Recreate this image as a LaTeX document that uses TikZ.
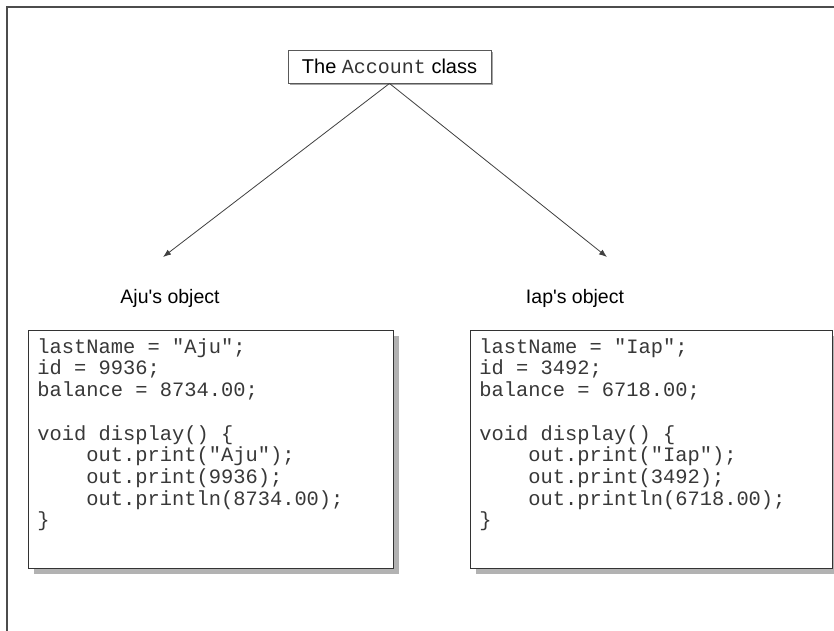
\documentclass[tikz,border=0pt]{standalone}
\usepackage{fontspec}
\setmainfont{Liberation Sans}[Ligatures=TeXOff]
\setmonofont{Liberation Mono}
\usetikzlibrary{arrows.meta,shadows}
\newcommand{\codefont}{\fontsize{20.4}{21.7}\selectfont\ttfamily\color{black!78}}
\newcommand{\ind}{\hphantom{void}}
\begin{document}
\begin{tikzpicture}[x=1pt,y=-1pt,
  frameline/.style={draw=black!70,line width=1.2pt},
  titlebox/.style={draw=black!65,line width=0.9pt,fill=white,minimum width=203pt,minimum height=33pt,inner sep=0pt,
     font=\fontsize{20}{24}\selectfont,
     drop shadow={shadow xshift=1.5pt,shadow yshift=-1.5pt,fill=black!35,opacity=1}},
  codebox/.style={draw=black!80,line width=0.9pt,fill=white,inner xsep=9pt,inner ysep=8pt,anchor=north west,
     drop shadow={shadow xshift=6pt,shadow yshift=-6pt,fill=black!30,opacity=1}},
  objlabel/.style={font=\fontsize{19.5}{24}\selectfont,anchor=base,inner sep=0pt},
  link/.style={draw=black!75,line width=0.8pt,-{Latex[length=8pt,width=6pt]}}
]
\useasboundingbox (0,0) rectangle (834,630);
\fill[white] (0,0) rectangle (834,630);
\draw[frameline] (7,640) -- (7,7) -- (850,7);

\node[titlebox] (title) at (389.5,66.5) {The \texttt{\color{black!80}Account} class};

\coordinate (ajutip) at (163,257);
\coordinate (iaptip) at (607,257);
\draw[link] (title.south) -- (ajutip);
\draw[link] (title.south) -- (iaptip);

\node[objlabel] (ajulabel) at (170,303) {Aju's object};
\node[objlabel] (iaplabel) at (575,303) {Iap's object};

\node[codebox] (ajubox) at (28,330) {\begin{minipage}[t][222pt][t]{347pt}\codefont
lastName = "Aju";\\
id = 9936;\\
balance = 8734.00;\\[21.7pt]
void display() \{\\
\ind out.print("Aju");\\
\ind out.print(9936);\\
\ind out.println(8734.00);\\
\}
\end{minipage}};

\node[codebox] (iapbox) at (470,330) {\begin{minipage}[t][222pt][t]{344pt}\codefont
lastName = "Iap";\\
id = 3492;\\
balance = 6718.00;\\[21.7pt]
void display() \{\\
\ind out.print("Iap");\\
\ind out.print(3492);\\
\ind out.println(6718.00);\\
\}
\end{minipage}};
\end{tikzpicture}
\end{document}
